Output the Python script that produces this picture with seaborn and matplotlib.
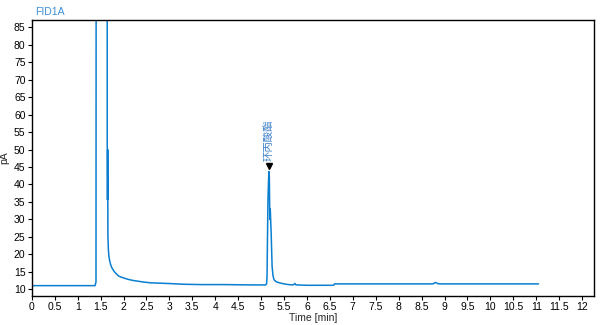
import matplotlib
matplotlib.use("Agg")
import matplotlib.pyplot as plt
import seaborn as sns
import pandas as pd
import numpy as np

# Chromatogram trace (time in min, signal in pA)
time_min = [0.0, 1.38, 1.39, 1.40, 1.41, 1.42, 1.60, 1.64, 1.645, 1.65, 1.655, 1.66, 1.67, 1.68,
            1.70, 1.72, 1.75, 1.80, 1.85, 1.90, 2.00, 2.10, 2.20, 2.30, 2.45, 2.60, 2.80,
            3.00, 3.30, 3.70, 4.20, 4.80, 5.10, 5.12, 5.13, 5.14, 5.15, 5.16, 5.17, 5.18,
            5.19, 5.20, 5.22, 5.24, 5.26, 5.28, 5.30, 5.35, 5.40, 5.50, 5.60, 5.70, 5.74,
            5.76, 5.80, 6.00, 6.58, 6.60, 7.50, 8.50, 8.75, 8.80, 8.85, 8.90, 10.0, 11.05]
signal_pa = [11.0, 11.0, 11.6, 12.0, 300.0, 1000.0, 1000.0, 300.0, 52.0, 35.6, 50.0, 25.0, 21.4, 19.5,
             18.0, 17.0, 16.0, 15.0, 14.3, 13.7, 13.2, 12.8, 12.5, 12.3, 12.0, 11.8, 11.7,
             11.6, 11.4, 11.3, 11.3, 11.2, 11.2, 11.5, 13.8, 25.0, 35.6, 40.0, 43.7, 42.0,
             30.0, 33.0, 26.0, 16.6, 13.8, 12.8, 12.4, 12.0, 11.8, 11.5, 11.3, 11.2, 11.6,
             11.2, 11.2, 11.1, 11.1, 11.5, 11.5, 11.5, 11.5, 11.9, 11.6, 11.5, 11.5, 11.5]

peak_time = 5.17
peak_value = 45.3
peak_label = "环丙酸酯"

x_ticks = [i * 0.5 for i in range(25)]
x_tick_labels = ["0", "0.5", "1", "1.5", "2", "2.5", "3", "3.5", "4", "4.5", "5", "5.5", "6",
                 "6.5", "7", "7.5", "8", "8.5", "9", "9.5", "10", "10.5", "11", "11.5", "12"]
y_ticks = list(range(10, 90, 5))

sns.set_theme(style="white")
plt.rcParams["font.family"] = ["Liberation Sans", "Noto Sans CJK SC"]

df = pd.DataFrame({"Time [min]": time_min, "pA": signal_pa})

fig = plt.figure(figsize=(6.0, 3.25), dpi=100)
ax = fig.add_axes([0.053, 0.09, 0.937, 0.848])

line_color = "#0a7fd0"
sns.lineplot(data=df, x="Time [min]", y="pA", ax=ax, color=line_color, linewidth=1.1,
             sort=False, estimator=None)

ax.set_xlim(0, 12.26)
ax.set_ylim(8.1, 87.1)
ax.set_xticks(x_ticks)
ax.set_xticklabels(x_tick_labels)
ax.set_yticks(y_ticks)
ax.tick_params(axis="both", labelsize=7.5, length=3, width=0.8, color="black",
               labelcolor="black", direction="out", pad=1.5, bottom=True, left=True)
for s in ax.spines.values():
    s.set_color("black")
    s.set_linewidth(1.0)
ax.set_xlabel("Time [min]", fontsize=7.5, labelpad=1)
ax.set_ylabel("pA", fontsize=7.5, labelpad=3)

# peak marker and label
ax.plot([peak_time], [peak_value], marker="v", color="black", markersize=4.5, linestyle="none")
ax.text(peak_time, peak_value + 1.3, peak_label, rotation=90, ha="center", va="bottom",
        fontsize=7.5, color="#3a7fc8", family=["Noto Sans CJK SC"])

fig.text(0.058, 0.978, "FID1A", fontsize=7.5, color="#3a8fd8", ha="left", va="top")

fig.savefig("out.png", dpi=100)
